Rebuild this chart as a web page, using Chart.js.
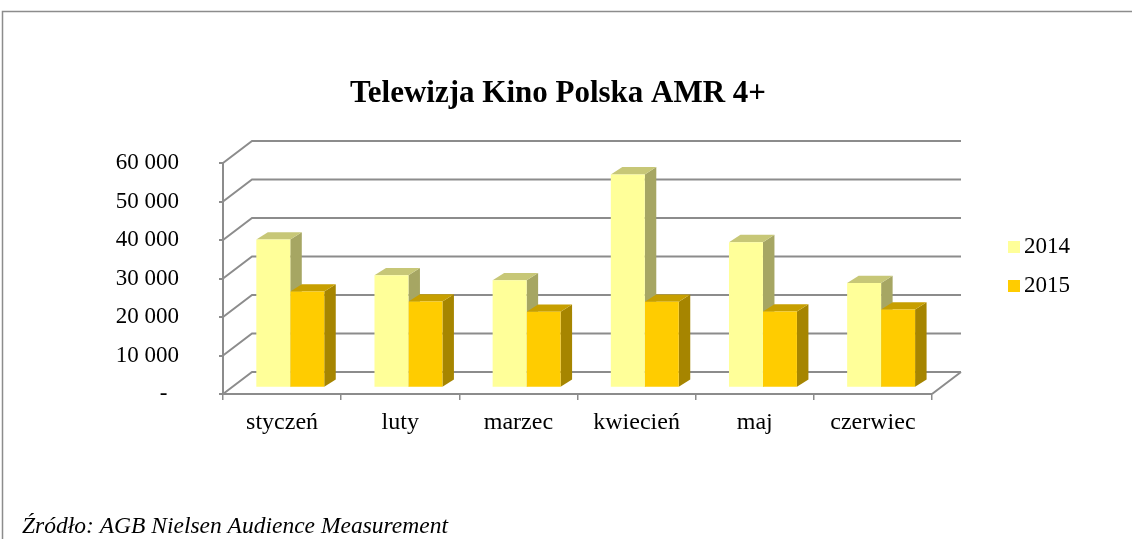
<!DOCTYPE html>
<html>
<head>
<meta charset="utf-8">
<script src="https://cdn.jsdelivr.net/npm/chart.js@4.4.1/dist/chart.umd.min.js"></script>
<style>
html,body{margin:0;padding:0;background:#fff;}
canvas{display:block;}
</style>
</head>
<body>
<canvas id="c" width="1132" height="539"></canvas>
<script>
// dane
const months = ['styczeń', 'luty', 'marzec', 'kwiecień', 'maj', 'czerwiec'];
const amr2014 = [38500, 29200, 27900, 55400, 37800, 27200];
const amr2015 = [25000, 22400, 19700, 22300, 19800, 20300];
const seriesLabels = ['2014', '2015'];
const yMax = 60000, yStep = 10000;
const titleText = 'Telewizja Kino Polska AMR 4+';
const sourceText = 'Źródło: AGB Nielsen Audience Measurement';

const SERIF = '"Liberation Serif", "Times New Roman", serif';
const GRID = '#8c8c8c';
const FRONT = ['#FFFF99', '#FFCC00'];
const TOP   = ['#C7C777', '#C79F00'];
const SIDE  = ['#A6A663', '#A68500'];

// przesuniecia "3D"
const WALL  = { dx: 29, dy: -22 };
const SHIFT = { dx: 8.2, dy: -6.3 };
const DEPTH = { dx: 11.5, dy: -7.3 };

function fmt(v){
  if (v === 0) return '-  ';
  return (v / 1000) + ' 000';
}

// sciany, podloga i boki slupkow
const fake3d = {
  id: 'fake3d',
  beforeDatasetsDraw(chart){
    const { ctx, chartArea: a, scales: { y } } = chart;
    ctx.save();
    ctx.strokeStyle = GRID;
    ctx.lineWidth = 2;
    ctx.beginPath();
    y.ticks.forEach(t => {
      const py = y.getPixelForValue(t.value);
      ctx.moveTo(a.left, py);
      ctx.lineTo(a.left + WALL.dx, py + WALL.dy);
      ctx.lineTo(a.right + WALL.dx, py + WALL.dy);
    });
    ctx.moveTo(a.right, a.bottom);
    ctx.lineTo(a.right + WALL.dx, a.bottom + WALL.dy);
    ctx.stroke();
    ctx.restore();

    ctx.save();
    ctx.translate(SHIFT.dx, SHIFT.dy);
    chart.data.datasets.forEach((ds, i) => {
      chart.getDatasetMeta(i).data.forEach(bar => {
        const l = bar.x - bar.width / 2, r = bar.x + bar.width / 2;
        const t = bar.y, b = bar.base;
        ctx.fillStyle = SIDE[i];
        ctx.beginPath();
        ctx.moveTo(r, b);
        ctx.lineTo(r + DEPTH.dx, b + DEPTH.dy);
        ctx.lineTo(r + DEPTH.dx, t + DEPTH.dy);
        ctx.lineTo(r, t);
        ctx.closePath();
        ctx.fill();
        ctx.fillStyle = TOP[i];
        ctx.beginPath();
        ctx.moveTo(l, t);
        ctx.lineTo(r, t);
        ctx.lineTo(r + DEPTH.dx, t + DEPTH.dy);
        ctx.lineTo(l + DEPTH.dx, t + DEPTH.dy);
        ctx.closePath();
        ctx.fill();
      });
    });
    // restore w afterDatasetsDraw
  },
  afterDatasetsDraw(chart){
    chart.ctx.restore();
  }
};

// ramka, tytul, legenda, zrodlo
const decor = {
  id: 'decor',
  afterDraw(chart){
    const ctx = chart.ctx;
    ctx.save();
    ctx.strokeStyle = GRID;
    ctx.lineWidth = 1.5;
    ctx.beginPath();
    ctx.moveTo(2.5, 539);
    ctx.lineTo(2.5, 11.5);
    ctx.lineTo(1132, 11.5);
    ctx.stroke();

    ctx.fillStyle = '#000';
    ctx.font = 'bold 31px ' + SERIF;
    ctx.textAlign = 'center';
    ctx.textBaseline = 'alphabetic';
    ctx.fillText(titleText, 558, 102);

    ctx.font = '23px ' + SERIF;
    ctx.textAlign = 'left';
    ctx.textBaseline = 'middle';
    chart.data.datasets.forEach((ds, i) => {
      const cy = 247 + i * 39;
      ctx.fillStyle = ds.backgroundColor;
      ctx.fillRect(1008, cy - 6, 12, 12);
      ctx.fillStyle = '#000';
      ctx.fillText(ds.label, 1024, cy);
    });

    ctx.font = 'italic 23.5px ' + SERIF;
    ctx.textBaseline = 'alphabetic';
    ctx.fillText(sourceText, 22, 533);
    ctx.restore();
  }
};

new Chart(document.getElementById('c'), {
  type: 'bar',
  data: {
    labels: months,
    datasets: [
      { label: seriesLabels[0], data: amr2014, backgroundColor: FRONT[0], clip: false },
      { label: seriesLabels[1], data: amr2015, backgroundColor: FRONT[1], clip: false }
    ]
  },
  options: {
    responsive: false,
    animation: false,
    events: [],
    layout: { padding: { left: 0, top: 163, right: 200, bottom: 95 } },
    datasets: { bar: { categoryPercentage: 0.575, barPercentage: 1, borderWidth: 0 } },
    plugins: { legend: { display: false }, tooltip: { enabled: false }, title: { display: false } },
    scales: {
      x: {
        offset: true,
        grid: { display: true, drawOnChartArea: false, drawTicks: true, tickLength: 6, offset: true, color: GRID, lineWidth: 1.5 },
        border: { display: true, color: GRID, width: 2 },
        ticks: { color: '#000', font: { family: SERIF, size: 24 }, padding: 8, maxRotation: 0 },
        afterFit: s => { s.height = 50; }
      },
      y: {
        min: 0, max: yMax,
        grid: { display: true, drawOnChartArea: false, drawTicks: true, tickLength: 4, color: GRID, lineWidth: 2 },
        border: { display: true, color: GRID, width: 2 },
        ticks: { stepSize: yStep, color: '#000', font: { family: SERIF, size: 23 }, padding: 40, callback: v => fmt(v) },
        afterFit: s => { s.width = 223; }
      }
    }
  },
  plugins: [fake3d, decor]
});
</script>
</body>
</html>
